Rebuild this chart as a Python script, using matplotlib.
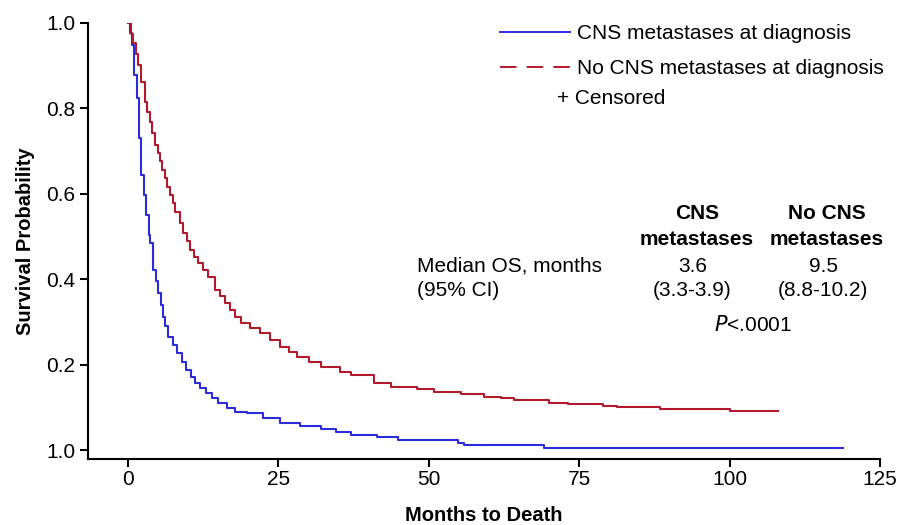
import matplotlib
matplotlib.use("Agg")
import matplotlib.pyplot as plt
from matplotlib.lines import Line2D

plt.rcParams['font.family'] = ['Liberation Sans', 'DejaVu Sans']

# Kaplan-Meier curves (months, survival probability)
cns_t = [0, 0.33, 0.67, 1.0, 1.4, 1.8, 2.2, 2.6, 3.05, 3.5, 3.7, 4.2, 4.6, 5.0, 5.4, 5.8,
         6.2, 6.7, 7.4, 8.05, 8.9, 9.7, 10.4, 11.1, 12.0, 13.0, 14.0, 15.0, 16.4, 17.8,
         19.8, 22.5, 25.3, 28.5, 32, 34.5, 37, 41.4, 44.8, 54.8, 55.9, 69.2, 118.8]
cns_s = [1.0, 0.977, 0.948, 0.879, 0.825, 0.731, 0.644, 0.598, 0.551, 0.504, 0.485, 0.422,
         0.395, 0.368, 0.340, 0.312, 0.290, 0.265, 0.246, 0.227, 0.207, 0.187, 0.172,
         0.157, 0.145, 0.134, 0.122, 0.110, 0.099, 0.089, 0.087, 0.075, 0.063, 0.056,
         0.049, 0.042, 0.035, 0.030, 0.023, 0.017, 0.011, 0.004, 0.004]

nocns_t = [0, 0.4, 0.83, 1.25, 1.67, 2.2, 2.8, 3.2, 3.6, 4.0, 4.45, 4.9, 5.3, 5.7, 6.1, 6.5,
           6.95, 7.4, 7.8, 8.7, 9.2, 9.75, 10.3, 11.0, 11.7, 12.5, 13.3, 14.45, 15.3, 16.1,
           17.0, 17.8, 18.7, 20.3, 22, 23.6, 25.3, 26.7, 28.1, 30, 32, 35.3, 37, 40.9, 43.7,
           48.1, 50.9, 55.3, 59.2, 62, 64.2, 66.7, 70, 73.1, 79, 81.2, 88.4, 100, 108]
nocns_s = [1.0, 0.975, 0.953, 0.927, 0.902, 0.863, 0.816, 0.792, 0.769, 0.742, 0.715, 0.695,
           0.676, 0.656, 0.637, 0.617, 0.598, 0.578, 0.558, 0.531, 0.509, 0.489, 0.469,
           0.453, 0.438, 0.422, 0.406, 0.375, 0.360, 0.344, 0.328, 0.312, 0.297, 0.285,
           0.273, 0.258, 0.242, 0.230, 0.219, 0.207, 0.195, 0.183, 0.176, 0.158, 0.148,
           0.142, 0.137, 0.131, 0.125, 0.122, 0.118, 0.116, 0.111, 0.107, 0.104, 0.100,
           0.097, 0.092, 0.092]

x_ticks = [0, 25, 50, 75, 100, 125]
y_ticks = [0.0, 0.2, 0.4, 0.6, 0.8, 1.0]
y_tick_labels = ['1.0', '0.2', '0.4', '0.6', '0.8', '1.0']

labels = ['CNS metastases at diagnosis', 'No CNS metastases at diagnosis']
blue = '#2b2bd9'
red = '#b3192d'
fs = 15

fig = plt.figure(figsize=(8.99, 5.25), dpi=100)
ax = fig.add_axes([88/899, 1-459/525, (880-88)/899, (459-23)/525])

ax.plot(cns_t, cns_s, drawstyle='steps-post', color=blue, lw=1.5)
ax.plot(nocns_t, nocns_s, drawstyle='steps-post', color=red, lw=1.5)

ax.set_xlim(-6.67, 125)
ax.set_ylim(-0.021, 1.0)
ax.set_xticks(x_ticks)
ax.set_yticks(y_ticks)
ax.set_yticklabels(y_tick_labels)
for s in ['top', 'right']:
    ax.spines[s].set_visible(False)
for s in ['left', 'bottom']:
    ax.spines[s].set_linewidth(1.5)
ax.tick_params(axis='both', direction='out', length=6, width=1.5, labelsize=fs, pad=3)
ax.tick_params(axis='x', pad=2)

ax.set_xlabel('Months to Death', fontsize=14.5, fontweight='bold', labelpad=12)
ax.set_ylabel('Survival Probability', fontsize=14.5, fontweight='bold', labelpad=8)

handles = [Line2D([], [], color=blue, lw=1.4, ls='-'),
           Line2D([], [], color=red, lw=1.4, ls=(0, (8.5, 5.2)))]
leg = ax.legend(handles, labels, loc='upper left', bbox_to_anchor=(0.520, 0.997),
                frameon=False, fontsize=fs, handlelength=3.37, handletextpad=0.34,
                labelspacing=0.75, borderaxespad=0, borderpad=0)

fig.text(557/899, 1-98/525, '+ Censored', fontsize=fs, va='center', ha='left')

# Median OS table
fig.text(697/899, 1-214/525, 'CNS', fontsize=fs, fontweight='bold', ha='center', va='center')
fig.text(697/899, 1-240/525, 'metastases', fontsize=fs, fontweight='bold', ha='center', va='center')
fig.text(827/899, 1-214/525, 'No CNS', fontsize=fs, fontweight='bold', ha='center', va='center')
fig.text(827/899, 1-240/525, 'metastases', fontsize=fs, fontweight='bold', ha='center', va='center')
fig.text(417/899, 1-266/525, 'Median OS, months', fontsize=fs, ha='left', va='center')
fig.text(417/899, 1-290/525, '(95% CI)', fontsize=fs, ha='left', va='center')
fig.text(693/899, 1-266/525, '3.6', fontsize=fs, ha='center', va='center')
fig.text(692/899, 1-290/525, '(3.3-3.9)', fontsize=fs, ha='center', va='center')
fig.text(823/899, 1-266/525, '9.5', fontsize=fs, ha='center', va='center')
fig.text(823/899, 1-290/525, '(8.8-10.2)', fontsize=fs, ha='center', va='center')
fig.text(753/899, 1-325/525, r'$\mathit{P}$<.0001', fontsize=fs, ha='center', va='center')

fig.savefig('out.png', dpi=100)
